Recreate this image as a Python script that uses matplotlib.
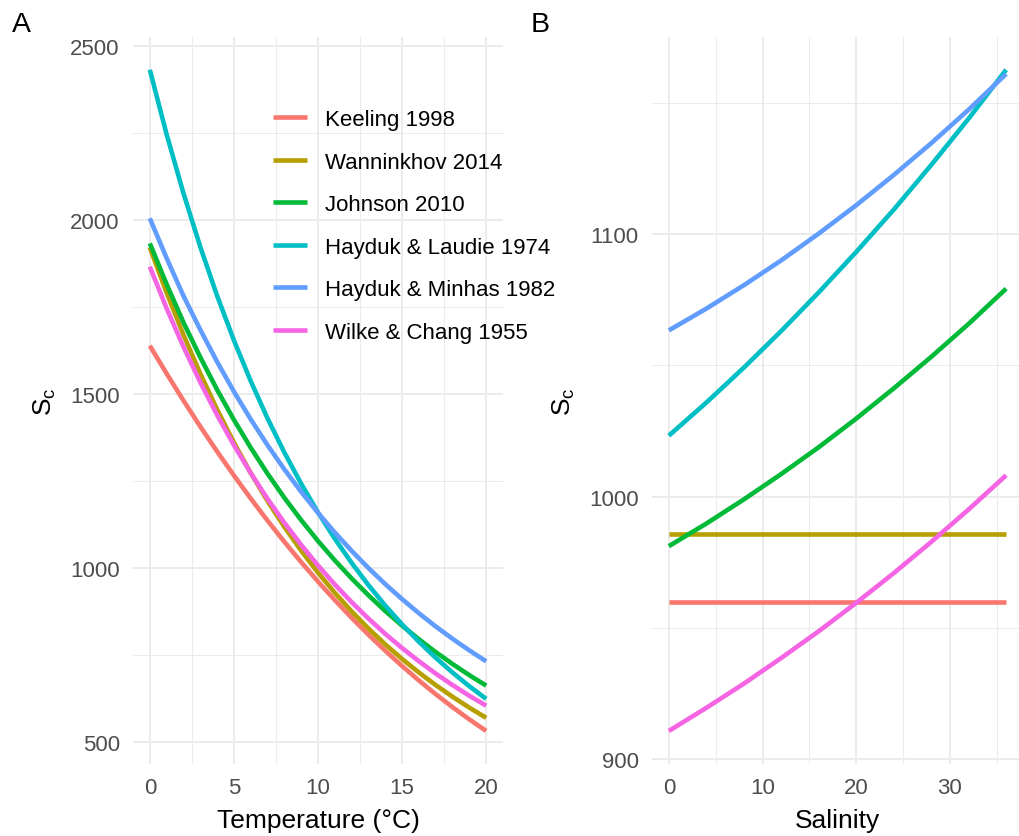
"""
Schmidt number of O2 against temperature (A) and salinity (B)
for several diffusivity parameterisations
"""

import matplotlib
matplotlib.use('Agg')
import matplotlib.pyplot as plt
from matplotlib.ticker import MultipleLocator

plt.rcParams['font.family'] = ['Liberation Sans', 'DejaVu Sans']

# Series names and colours (ggplot default hue palette)
names = ['Keeling 1998', 'Wanninkhov 2014', 'Johnson 2010',
         'Hayduk & Laudie 1974', 'Hayduk & Minhas 1982', 'Wilke & Chang 1955']
colours = ['#F8766D', '#B79F00', '#00BA38', '#00BFC4', '#619CFF', '#F564E3']

# Panel A - Sc against temperature (deg C), S = 35
temp = list(range(0, 21))
keeling_t = [1638, 1557.6, 1480.2, 1405.6, 1333.9, 1264.9, 1198.7, 1135.1, 1074.2,
             1015.8, 960.0, 906.7, 855.8, 807.3, 761.1, 717.2, 675.6, 636.2,
             598.9, 563.7, 530.6]
wanninkhof_t = [1920.4, 1789.9, 1669.2, 1557.6, 1454.6, 1359.6, 1272.0, 1191.3,
                1117.0, 1048.6, 985.6, 927.6, 874.2, 824.9, 779.4, 737.4, 698.5,
                662.4, 628.8, 597.5, 568.2]
johnson_t = [1932.0, 1814.4, 1704.7, 1604.9, 1511.4, 1424.9, 1344.7, 1270.1, 1200.8,
             1136.5, 1076.6, 1020.8, 968.9, 920.5, 875.3, 833.2, 794.0, 757.2,
             722.9, 690.8, 660.8]
laudie_t = [2431, 2245.2, 2076.1, 1922.1, 1781.6, 1653.4, 1536.2, 1429.0, 1331.0,
            1241.1, 1158.7, 1083.1, 1013.6, 949.7, 890.9, 836.8, 786.9, 740.8,
            698.3, 659.0, 622.7]
minhas_t = [2004, 1889.4, 1781.1, 1683.9, 1591.8, 1506.1, 1426.3, 1351.9, 1282.5,
            1217.8, 1157.4, 1100.9, 1048.2, 998.8, 952.6, 909.4, 868.9, 830.9,
            795.4, 762.0, 730.6]
wilke_t = [1865, 1745.1, 1634.7, 1532.9, 1438.8, 1352.1, 1271.9, 1197.6, 1128.9,
           1065.3, 1006.3, 951.5, 900.8, 853.5, 809.6, 768.8, 730.9, 695.5,
           662.5, 631.7, 603.2]

# Panel B - Sc against salinity, T = 10 deg C
sal = [0, 4, 8, 12, 16, 20, 24, 28, 32, 36]
keeling_s = [960, 960, 960, 960, 960, 960, 960, 960, 960, 960]
wanninkhof_s = [985.6, 985.6, 985.6, 985.6, 985.6, 985.6, 985.6, 985.6, 985.6, 985.6]
johnson_s = [981.1, 989.7, 998.9, 1008.6, 1018.8, 1029.7, 1041.2, 1053.2, 1065.8, 1079.2]
laudie_s = [1023.2, 1035.8, 1049.1, 1063.1, 1077.8, 1093.2, 1109.3, 1126.3, 1144.0, 1162.6]
minhas_s = [1063.3, 1071.6, 1080.5, 1090.0, 1100.2, 1111.0, 1122.5, 1134.6, 1147.4, 1161.0]
wilke_s = [910.7, 919.5, 928.7, 938.5, 948.7, 959.5, 970.8, 982.7, 995.1, 1008.1]

W, H = 1019, 837
tick_size = 16
title_size = 19


def style_axes(ax, xmaj, xmin, ymaj, ymin):
    'theme_minimal look: no spines, no ticks, light grid'
    for s in ax.spines.values():
        s.set_visible(False)
    ax.xaxis.set_major_locator(MultipleLocator(xmaj))
    ax.xaxis.set_minor_locator(MultipleLocator(xmin))
    ax.yaxis.set_major_locator(MultipleLocator(ymaj))
    ax.yaxis.set_minor_locator(MultipleLocator(ymin))
    ax.tick_params(which='both', length=0, pad=9.5,
                   labelsize=tick_size, labelcolor='#4D4D4D')
    ax.grid(which='major', color='#EBEBEB', linewidth=1.4)
    ax.grid(which='minor', color='#EBEBEB', linewidth=0.75)
    ax.set_axisbelow(True)
    ax.set_ylabel(r'$\mathregular{S_c}$', fontsize=title_size, labelpad=9)


def main():
    fig = plt.figure(figsize=(W / 100, H / 100), dpi=100)
    axA = fig.add_axes([133 / W, 72 / H, 370 / W, 727.3 / H])
    axB = fig.add_axes([652 / W, 72 / H, 371 / W, 727.3 / H])

    series_t = [keeling_t, wanninkhof_t, johnson_t, laudie_t, minhas_t, wilke_t]
    series_s = [keeling_s, wanninkhof_s, johnson_s, laudie_s, minhas_s, wilke_s]

    handles = []
    for name, col, yt, ys in zip(names, colours, series_t, series_s):
        h, = axA.plot(temp, yt, color=col, lw=3.3, solid_capstyle='butt',
                      label=name)
        axB.plot(sal, ys, color=col, lw=3.3, solid_capstyle='butt')
        handles.append(h)

    'Panel A'
    style_axes(axA, 5, 2.5, 500, 250)
    axA.set_xlabel('Temperature (°C)', fontsize=title_size, labelpad=7)

    'Panel B'
    style_axes(axB, 10, 5, 100, 50)
    axB.set_xlabel('Salinity', fontsize=title_size, labelpad=7)

    fig.legend(handles=handles, loc='upper left',
               bbox_to_anchor=(273 / W, 1 - 110 / H),
               bbox_transform=fig.transFigure, frameon=False,
               fontsize=tick_size, borderpad=0, borderaxespad=0,
               handlelength=1.53, handletextpad=0.81, labelspacing=0.97)

    fig.text(12 / W, 1 - 12 / H, 'A', fontsize=20.4, va='top', ha='left')
    fig.text(531 / W, 1 - 12 / H, 'B', fontsize=20.4, va='top', ha='left')

    fig.savefig('out.png', dpi=100, facecolor='white')


main()
